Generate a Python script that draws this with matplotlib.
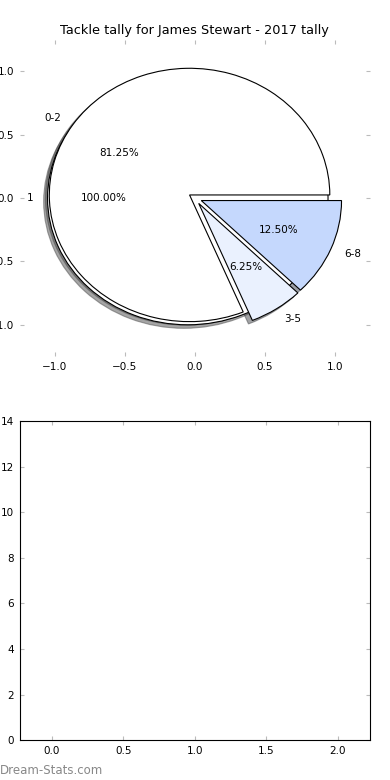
import matplotlib
matplotlib.use('Agg')
import matplotlib.pyplot as plt

# === Data ===
title = 'Tackle tally for James Stewart - 2017 tally'
total_labels = ['1']
total_values = [16]
labels = ['0-2', '3-5', '6-8']
values = [13, 1, 2]
colors = ['#ffffff', '#eaf1fe', '#c5d8fd']
explode = [0.045, 0.05, 0.05]

plt.rcParams['font.family'] = 'DejaVu Sans'
plt.rcParams['font.size'] = 7.5

fig = plt.figure(figsize=(3.9, 7.8), dpi=100)

# === Pie ===
ax1 = fig.add_axes([0.05, 0.543, 0.899, 0.406])
ax1.pie(total_values, labels=total_labels, colors=['#ffffff'], explode=[0.05],
        autopct='%.2f%%', shadow=True,
        wedgeprops={'edgecolor': 'black', 'linewidth': 0.8},
        textprops={'fontsize': 7.5})
ax1.pie(values, labels=labels, colors=colors, explode=explode, autopct='%.2f%%',
        shadow=True, wedgeprops={'edgecolor': 'black', 'linewidth': 0.8},
        textprops={'fontsize': 7.5})
ax1.set_aspect('auto')
ax1.set_frame_on(False)
ax1.set_xlim(-1.25, 1.25)
ax1.set_ylim(-1.25, 1.25)
ax1.set_xticks([-1.0, -0.5, 0.0, 0.5, 1.0])
ax1.set_yticks([-1.0, -0.5, 0.0, 0.5, 1.0])
ax1.tick_params(direction='in', top=True, right=True, length=3, color='#bbbbbb',
                labelsize=7.5, pad=4)
ax1.set_title(title, fontsize=9.3, pad=4)

# === Empty tally axes ===
ax2 = fig.add_axes([0.05, 0.051, 0.899, 0.409])
ax2.set_xlim(-0.225, 2.225)
ax2.set_ylim(0, 14)
ax2.set_xticks([0.0, 0.5, 1.0, 1.5, 2.0])
ax2.set_yticks(range(0, 15, 2))
ax2.tick_params(direction='in', top=True, right=True, length=3, color='#bbbbbb',
                labelsize=7.5, pad=4)

fig.text(0.0, 0.008, 'Dream-Stats.com', fontsize=8.5, color='#888888')

fig.savefig('out.png', dpi=100)
